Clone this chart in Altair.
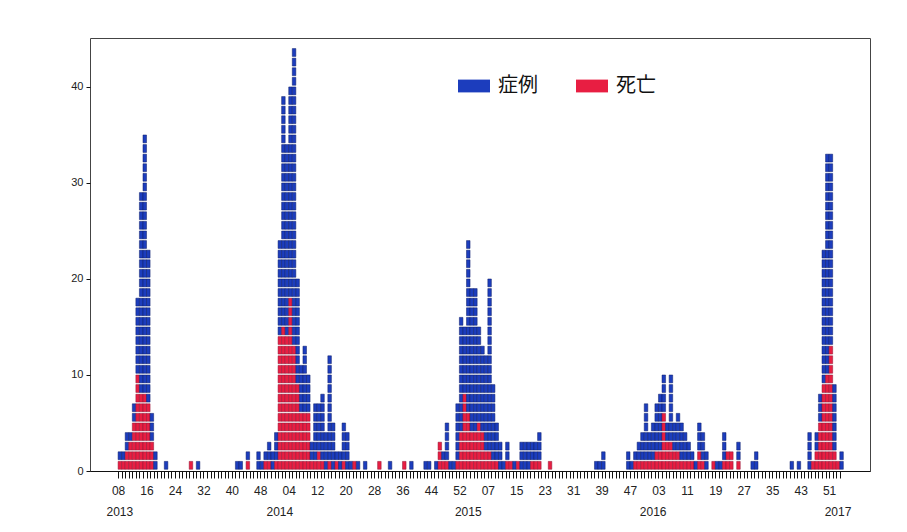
import json
import altair as alt
import pandas as pd

# Weekly counts by onset week (cases / deaths), one list per calendar year
years = [2013, 2014, 2015, 2016, 2017]
first_week = [8, 1, 1, 1, 1]

cases_2013 = [2, 2, 4, 4, 7, 18, 29, 35, 23, 6,
              2, 0, 0, 1, 0, 0, 0, 0, 0, 0,
              1, 0, 1, 0, 0, 0, 0, 0, 0, 0,
              0, 0, 0, 1, 1, 0, 2, 0, 0, 2,
              1, 2, 3, 2, 4]
deaths_2013 = [1, 1, 2, 3, 5, 10, 8, 8, 7, 3,
               0, 0, 0, 0, 0, 0, 0, 0, 0, 0,
               1, 0, 0, 0, 0, 0, 0, 0, 0, 0,
               0, 0, 0, 0, 0, 0, 1, 0, 0, 0,
               0, 1, 1, 0, 1]

cases_2014 = [24, 39, 34, 40, 44, 20, 11, 13, 10, 3,
              7, 7, 8, 4, 12, 5, 2, 2, 5, 4,
              1, 1, 1, 0, 1, 0, 0, 0, 1, 0,
              0, 1, 0, 0, 0, 1, 0, 1, 0, 0,
              0, 1, 1, 0, 1, 3, 2, 5, 1, 1,
              7, 16, 15]
deaths_2014 = [14, 15, 14, 18, 13, 9, 6, 6, 6, 1,
               1, 2, 1, 0, 1, 0, 1, 0, 1, 0,
               0, 1, 0, 0, 0, 0, 0, 0, 1, 0,
               0, 0, 0, 0, 0, 1, 0, 0, 0, 0,
               0, 0, 0, 0, 0, 3, 1, 1, 0, 0,
               1, 4, 8]

cases_2015 = [24, 19, 19, 15, 13, 12, 20, 9, 5, 3,
              1, 3, 1, 1, 1, 3, 3, 3, 3, 3,
              4, 0, 0, 1, 0, 0, 0, 0, 0, 0,
              0, 0, 0, 0, 0, 0, 1, 1, 2, 0,
              0, 0, 0, 0, 0, 2, 1, 2, 3, 4,
              7, 4]
deaths_2015 = [6, 4, 4, 5, 4, 2, 2, 1, 1, 0,
               0, 1, 1, 0, 1, 0, 0, 0, 1, 1,
               1, 0, 0, 1, 0, 0, 0, 0, 0, 0,
               0, 0, 0, 0, 0, 0, 0, 0, 0, 0,
               0, 0, 0, 0, 0, 0, 0, 1, 1, 1,
               1, 1]

cases_2016 = [5, 7, 8, 10, 5, 10, 5, 6, 5, 4,
              3, 2, 1, 5, 4, 2, 0, 1, 1, 1,
              4, 2, 2, 0, 3, 0, 0, 0, 1, 2,
              0, 0, 0, 0, 0, 0, 0, 0, 0, 1,
              0, 1, 0, 0, 4, 1, 4, 8, 23, 33,
              33, 9]
deaths_2016 = [1, 2, 2, 6, 3, 3, 2, 2, 1, 1,
               1, 1, 0, 2, 1, 0, 0, 1, 0, 0,
               1, 2, 2, 0, 1, 0, 0, 0, 0, 0,
               0, 0, 0, 0, 0, 0, 0, 0, 0, 0,
               0, 0, 0, 0, 0, 1, 2, 5, 9, 10,
               13, 2]

cases_2017 = [1, 2]
deaths_2017 = [1, 0]

cases_all = [cases_2013, cases_2014, cases_2015, cases_2016, cases_2017]
deaths_all = [deaths_2013, deaths_2014, deaths_2015, deaths_2016, deaths_2017]

series = ["症例", "死亡"]
fill_colors = ["#1c3dbd", "#e81e42"]
edge_colors = ["#0c1c66", "#8c1535"]

rows = []
week_labels = []
year_rows = []
idx = 0
for yr, fw, cs, ds in zip(years, first_week, cases_all, deaths_all):
    year_rows.append({"year": str(yr), "xpos": idx + 0.5})
    for j, (c, d) in enumerate(zip(cs, ds)):
        week_labels.append(f"{fw + j:02d}")
        for k in range(c):
            rows.append({"x": idx, "x2": idx + 1, "y": k + 0.18, "y2": k + 1,
                         "type": series[1] if k < d else series[0]})
        idx += 1
n_weeks = idx

df = pd.DataFrame(rows)
years_df = pd.DataFrame(year_rows)

tick_labels = [week_labels[k] for k in range(0, n_weeks, 8)]
label_expr = ("datum.value % 8 === 0 ? " + json.dumps(tick_labels)
              + "[floor(datum.value / 8)] : ''")

x_scale = alt.Scale(domain=[-7.9, 211.5], nice=False, zero=False)

bars = alt.Chart(df).mark_rect(strokeWidth=0.5).encode(
    x=alt.X("x:Q", scale=x_scale, title=None,
            axis=alt.Axis(values=list(range(n_weeks)), labelExpr=label_expr,
                          ticks=True, tickSize=7, labelPadding=7,
                          labelOverlap=False, labelBound=False,
                          grid=False, domain=True, domainColor="#111",
                          tickColor="#111", tickWidth=1,
                          labelFontSize=12, labelFont="Liberation Sans",
                          labelColor="#222")),
    x2="x2:Q",
    y=alt.Y("y:Q", scale=alt.Scale(domain=[0, 45.1], nice=False, zero=True),
            title=None,
            axis=alt.Axis(values=[0, 10, 20, 30, 40], grid=False, domain=False,
                          tickSize=4, tickColor="#111", labelPadding=3,
                          labelFontSize=11, labelFont="Liberation Sans",
                          labelColor="#222")),
    y2="y2:Q",
    color=alt.Color("type:N", scale=alt.Scale(domain=series, range=fill_colors),
                    legend=alt.Legend(orient="none", legendX=368, legendY=32,
                                      direction="horizontal", title=None,
                                      symbolType="M-1,-0.4H1V0.4H-1Z",
                                      symbolSize=1024, symbolStrokeWidth=0,
                                      labelFontSize=20,
                                      labelFont="Noto Sans CJK JP",
                                      labelColor="#111", labelOffset=8,
                                      columnPadding=38, padding=0)),
    stroke=alt.Stroke("type:N", scale=alt.Scale(domain=series, range=edge_colors),
                      legend=None),
)

year_text = alt.Chart(years_df).mark_text(
    fontSize=12, font="Liberation Sans", color="#222", baseline="middle"
).encode(
    x=alt.X("xpos:Q", scale=x_scale, axis=None),
    y=alt.value(474),
    text="year:N",
)

chart = alt.layer(bars, year_text).resolve_axis(x="independent").properties(
    width=780, height=433,
    autosize=alt.AutoSizeParams(type="none"),
    padding={"left": 82, "top": 30, "right": 29, "bottom": 53},
    background="white",
).configure_view(stroke="#444", strokeWidth=1)

chart.save("out.html", embed_options={"renderer": "svg", "actions": False})
